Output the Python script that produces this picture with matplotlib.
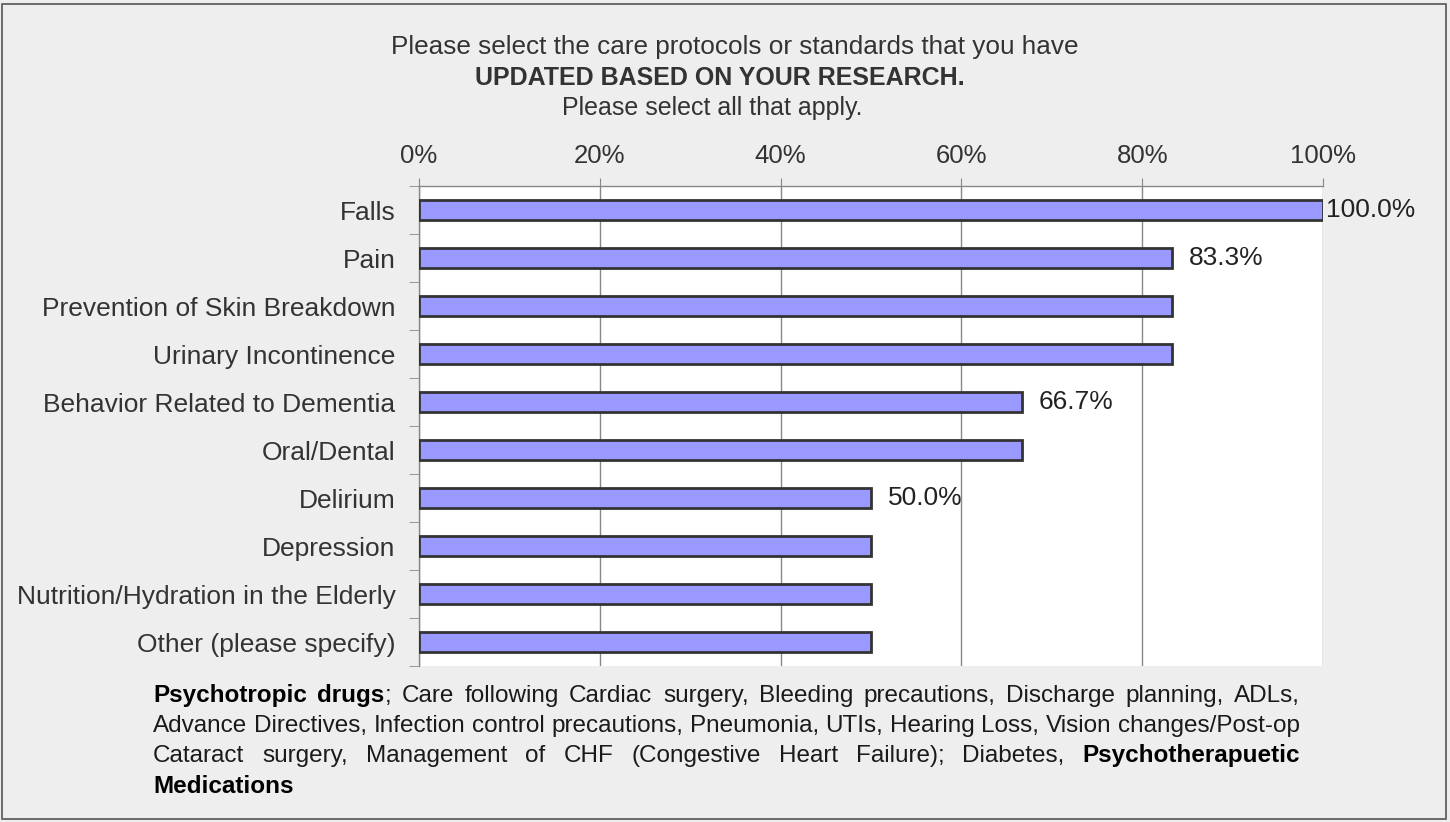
import matplotlib
matplotlib.use("Agg")
import matplotlib.pyplot as plt
from matplotlib.ticker import FixedLocator, FuncFormatter
from matplotlib.patches import Rectangle

categories = ["Falls", "Pain", "Prevention of Skin Breakdown", "Urinary Incontinence",
              "Behavior Related to Dementia", "Oral/Dental", "Delirium", "Depression",
              "Nutrition/Hydration in the Elderly", "Other (please specify)"]
values = [100.0, 83.3, 83.3, 83.3, 66.7, 66.7, 50.0, 50.0, 50.0, 50.0]
show_label = [True, True, False, False, True, False, True, False, False, False]
xticks = [0, 20, 40, 60, 80, 100]

title_lines = ["Please select the care protocols or standards that you have",
               "UPDATED BASED ON YOUR RESEARCH.",
               "Please select all that apply."]
title_bold = [False, True, False]

footnote = [
    [("Psychotropic drugs", True), ("; Care following Cardiac surgery, Bleeding precautions, Discharge planning, ADLs,", False)],
    [("Advance Directives, Infection control precautions, Pneumonia, UTIs, Hearing Loss, Vision changes/Post-op", False)],
    [("Cataract surgery, Management of CHF (Congestive Heart Failure); Diabetes, ", False), ("Psychotherapuetic", True)],
    [("Medications", True)],
]

plt.rcParams['font.family'] = ['Liberation Sans', 'DejaVu Sans']
W, H = 1450, 822
fig = plt.figure(figsize=(W/100, H/100), dpi=100, facecolor="#eeeeee")
fig.patches.append(Rectangle((2/W, 3/H), 1 - 6/W, 1 - 7/H, transform=fig.transFigure,
                             fill=False, edgecolor="#555555", linewidth=1.2))

ax = fig.add_axes([419/W, 1 - 666/H, (1323-419)/W, (666-186)/H])
ax.set_facecolor("white")
y = list(range(len(categories)))
ax.barh(y, values, height=0.4, color="#9999ff", edgecolor="#333333", linewidth=2, zorder=3)
ax.set_xlim(0, 100)
ax.set_ylim(len(categories) - 0.5, -0.5)

ax.xaxis.tick_top()
ax.xaxis.set_major_locator(FixedLocator(xticks))
ax.xaxis.set_major_formatter(FuncFormatter(lambda v, p: f"{v:.0f}%"))
ax.tick_params(axis="x", which="major", length=6, color="#888888", labelsize=18.5,
               labelcolor="#333333", pad=7)
ax.grid(axis="x", color="#888888", linewidth=1, zorder=1)

ax.set_yticks(y)
ax.set_yticklabels(categories)
ax.set_yticks([i - 0.5 for i in range(len(categories) + 1)], minor=True)
ax.tick_params(axis="y", which="major", length=0, labelsize=19, labelcolor="#333333", pad=17)
ax.tick_params(axis="y", which="minor", length=7, color="#888888")

for s in ["right", "bottom"]:
    ax.spines[s].set_visible(False)
for s in ["left", "top"]:
    ax.spines[s].set_color("#888888")
    ax.spines[s].set_linewidth(1)

for yi, v, sl in zip(y, values, show_label):
    if sl:
        off = 2 if v >= 100 else 12
        ax.annotate(f"{v:.1f}%", (v, yi), xytext=(off, 0), textcoords="offset points",
                    va="center", ha="left", fontsize=19, color="#222222", annotation_clip=False)

title_x = [735, 720, 712]
title_base = [54, 85, 115]
title_size = [18.8, 18, 18]
for t, tx, ty, tb, ts in zip(title_lines, title_x, title_base, title_bold, title_size):
    fig.text(tx/W, 1 - ty/H, t, ha="center", va="baseline", fontsize=ts,
             fontweight="bold" if tb else "normal", color="#333333")


def words_of(line):
    words = []
    new_word = True
    for txt, bold in line:
        parts = txt.split(' ')
        for i, p in enumerate(parts):
            if i > 0:
                new_word = True
            if p == '':
                continue
            if new_word or not words:
                words.append([(p, bold)])
            else:
                words[-1].append((p, bold))
            new_word = False
    return words


fig.canvas.draw()
renderer = fig.canvas.get_renderer()
FS = 17.5
# natural space width
t1 = fig.text(0, 0, "x x", fontsize=FS); t2 = fig.text(0, 0, "xx", fontsize=FS)
space_w = t1.get_window_extent(renderer).width - t2.get_window_extent(renderer).width
t1.remove(); t2.remove()

left_px, right_px = 153, 1300
fy = [702, 732, 762, 793]
for li, (line, ly) in enumerate(zip(footnote, fy)):
    words = words_of(line)
    placed = []
    widths = []
    for w in words:
        segs = []
        ww = 0
        for txt, bold in w:
            t = fig.text(0, 1 - ly/H, txt, ha="left", va="baseline", fontsize=FS,
                         fontweight="bold" if bold else "normal",
                         color="#000000" if bold else "#1a1a1a")
            sw = t.get_window_extent(renderer).width
            segs.append((t, ww))
            ww += sw
        placed.append(segs)
        widths.append(ww)
    last = li == len(footnote) - 1
    if not last and len(words) > 1:
        gap = (right_px - left_px - sum(widths)) / (len(words) - 1)
    else:
        gap = space_w
    x = left_px
    for segs, ww in zip(placed, widths):
        for t, off in segs:
            t.set_x((x + off) / W)
        x += ww + gap

fig.savefig("out.png", dpi=100, facecolor=fig.get_facecolor())
